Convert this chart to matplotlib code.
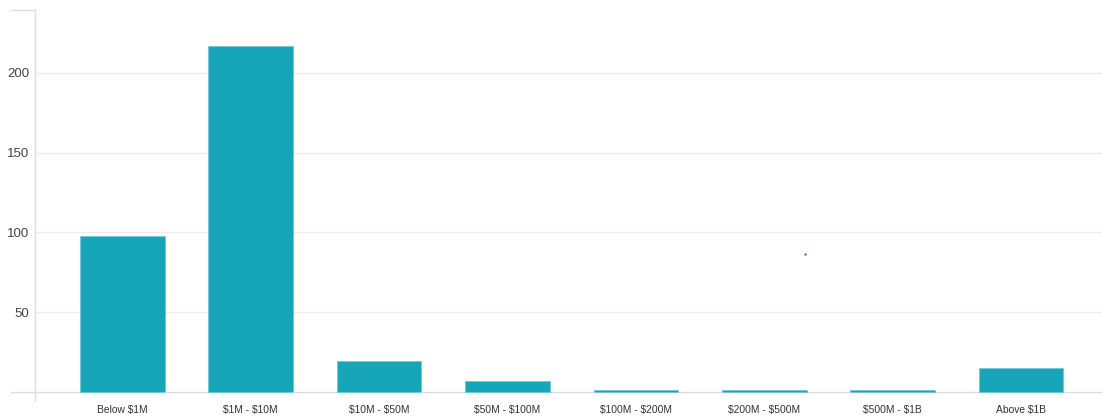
import matplotlib.pyplot as plt
import numpy as np

plt.rcParams['font.family'] = ['Liberation Sans', 'DejaVu Sans']
plt.rcParams['text.parse_math'] = False

categories = ["Below $1M", "$1M - $10M", "$10M - $50M", "$50M - $100M",
              "$100M - $200M", "$200M - $500M", "$500M - $1B", "Above $1B"]
counts = [98, 217, 19, 7, 1, 1, 1, 15]
y_ticks = [50, 100, 150, 200]

# stray hover dot left on the canvas
dot_x = [5.32]
dot_y = [86.4]

fig = plt.figure(figsize=(11.02, 4.17), dpi=100)
ax = fig.add_axes([35 / 1102, 16 / 417, 1067 / 1102, 391 / 417])

x = np.arange(len(categories))
ax.bar(x, counts, width=0.66, color="#17a6b9", edgecolor="#6fcad6",
       linewidth=0.6, zorder=3)
ax.scatter(dot_x, dot_y, s=3, color="#6a5cf0", zorder=4, linewidths=0)

for v in [0] + y_ticks:
    ax.axhline(v, color="#ececf2" if v else "#dcdce6", linewidth=1, zorder=1)
ax.plot([-0.87, -0.68], [0, 0], color="#dcdce6", lw=1, clip_on=False)
ax.plot([-0.87, -0.68], [239.5, 239.5], color="#dcdce6", lw=1, clip_on=False)

ax.set_xlim(-0.68, 7.63)
ax.set_ylim(-5.8, 239.5)

ax.set_yticks(y_ticks)
ax.set_yticklabels([str(t) for t in y_ticks], fontsize=9.5, color="#444444")
ax.tick_params(axis="y", length=0, pad=4)

ax.set_xticks(x)
ax.set_xticklabels(categories, fontsize=7.4, color="#333333")
ax.tick_params(axis="x", length=0, pad=3)

for side in ["top", "right", "bottom"]:
    ax.spines[side].set_visible(False)
ax.spines["left"].set_color("#dcdce6")
ax.spines["left"].set_linewidth(1)

fig.savefig("out.png", dpi=100)
